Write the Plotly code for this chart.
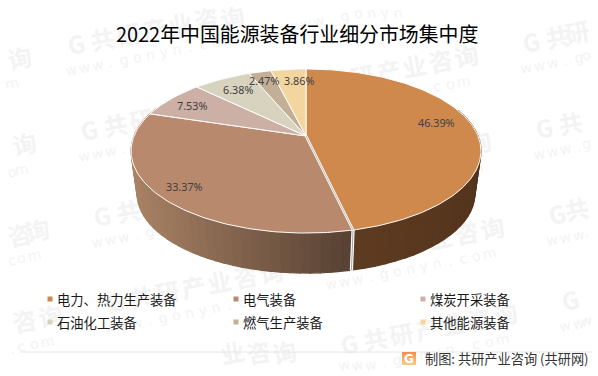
import numpy as np
import plotly.graph_objects as go

title = "2022年中国能源装备行业细分市场集中度"
categories = ["电力、热力生产装备", "电气装备", "煤炭开采装备", "石油化工装备", "燃气生产装备", "其他能源装备"]
values = [46.39, 33.37, 7.53, 6.38, 2.47, 3.86]
top_colors = ["#CF894C", "#B8896C", "#CCAFA5", "#D8D3BF", "#C3AF95", "#F3D5A0"]
label_xy = [(436, 122), (184, 186), (192, 105), (238, 89), (264, 80), (299, 80)]
legend_xy = [(50, 299), (236, 299), (423, 299), (50, 322), (236, 322), (423, 322)]
source = "制图: 共研产业咨询 (共研网)"
watermark_main = "G共研产业咨询"
watermark_sub = "www.gonyn.com"
FONT = "Noto Sans CJK SC"

# projected-disc geometry
CX, CY, AX, BY, K = 306.0, 136.0, 172.0, 79.3, 0.183
SCALE_B, CY_B = 0.965, 179.4


def top_pt(theta_deg, r=1.0, s=1.0, cy=CY):
    t = np.radians(theta_deg)
    x, y = r * np.sin(t), r * np.cos(t)
    d = 1 + K * y
    return CX + s * AX * x / d, cy - s * BY * y / d


def mix(c1, c2, f):
    a = [int(c1[i:i + 2], 16) for i in (1, 3, 5)]
    b = [int(c2[i:i + 2], 16) for i in (1, 3, 5)]
    return "#%02X%02X%02X" % tuple(round(p + (q - p) * f) for p, q in zip(a, b))


fig = go.Figure()


def poly(xs, ys, fill, line=None, width=0.0):
    fig.add_trace(go.Scatter(x=list(xs), y=list(ys), mode="lines", fill="toself", fillcolor=fill,
                             line=dict(color=line or fill, width=width), hoverinfo="skip", showlegend=False))


edges = np.concatenate([[0], np.cumsum(values)]) / sum(values) * 360


# watermarks: one glyph per small label, kept under the pie
def wm_glyph(x, y, ch, size, family, bold=False):
    if not (4 < x < 594 and 4 < y < 372):
        return
    half = size * 0.85
    x = min(max(x, half), 598 - half)
    y = min(max(y, half), 376 - half)
    txt = f"<b>{ch}</b>" if bold else ch
    fig.add_shape(type="rect", x0=x - 1, x1=x + 1, y0=y - 1, y1=y + 1, layer="below",
                  line=dict(width=0), fillcolor="rgba(0,0,0,0)",
                  label=dict(text=txt, textangle=-11, textposition="middle center",
                             font=dict(family=family, size=size, color="#F3F3F3")))


for i in (-1, 0, 1, 2):
    for j in (-1, 0, 1, 2, 3, 4):
        gx, gy = 77 + 234 * i + 13 * j, 47 + 42 * i + 86 * j
        for n, ch in enumerate(watermark_main):
            wm_glyph(gx + 26 * n, gy - 5 * n, ch, 24, FONT, True)
        for n, ch in enumerate(watermark_sub):
            wm_glyph(gx - 6 + 13.2 * n, gy + 22 - 2.55 * n, ch, 14, "DejaVu Sans")

# walls
wall_l_range = np.linspace(edges[1] + 0.5, 292, 45)
xs_min, xs_max = 131.0, 350.0
for a, b in zip(wall_l_range[:-1], wall_l_range[1:]):
    x1, y1 = top_pt(a); x2, y2 = top_pt(b)
    x3, y3 = top_pt(b, s=SCALE_B, cy=CY_B); x4, y4 = top_pt(a, s=SCALE_B, cy=CY_B)
    f = np.clip(((x1 + x2) / 2 - xs_min) / (xs_max - xs_min), 0, 1)
    col = mix("#A98265", "#574133", f)
    poly([x1, x2, x3, x4, x1], [y1, y2, y3, y4, y1], col, col, 1.2)
wall_r_range = np.linspace(70, edges[1] - 0.5, 30)
for a, b in zip(wall_r_range[:-1], wall_r_range[1:]):
    x1, y1 = top_pt(a); x2, y2 = top_pt(b)
    x3, y3 = top_pt(b, s=SCALE_B, cy=CY_B); x4, y4 = top_pt(a, s=SCALE_B, cy=CY_B)
    col = mix("#5E3C21", "#54341D", np.clip(((x1 + x2) / 2 - 352) / 129, 0, 1))
    poly([x1, x2, x3, x4, x1], [y1, y2, y3, y4, y1], col, col, 1.2)

# seam on the wall between first two slices
sx1, sy1 = top_pt(edges[1]); sx2, sy2 = top_pt(edges[1], s=SCALE_B, cy=CY_B)
fig.add_trace(go.Scatter(x=[sx1, sx2], y=[sy1, sy2], mode="lines", line=dict(color="#FFFFFF", width=3.2),
                         hoverinfo="skip", showlegend=False))
fig.add_trace(go.Scatter(x=[sx1, sx2], y=[sy1, sy2], mode="lines", line=dict(color="#A9A19A", width=1),
                         hoverinfo="skip", showlegend=False))

# top faces
for i, c in enumerate(top_colors):
    th = np.linspace(edges[i], edges[i + 1], max(6, int(edges[i + 1] - edges[i])))
    px, py = top_pt(th)
    poly(np.r_[CX, px, CX], np.r_[CY, py, CY], c, "#FFFFFF", 1.0)
fig.add_trace(go.Scatter(x=[CX, sx1], y=[CY, sy1], mode="lines", line=dict(color="#FFFFFF", width=2.6),
                         hoverinfo="skip", showlegend=False))
fig.add_trace(go.Scatter(x=[CX, sx1], y=[CY, sy1], mode="lines", line=dict(color="#B0A69E", width=0.8),
                         hoverinfo="skip", showlegend=False))

# data labels
for v, (lx, ly) in zip(values, label_xy):
    fig.add_annotation(x=lx, y=ly, text=f"{v:.2f}%", showarrow=False,
                       font=dict(family="Noto Sans", size=10.8, color="#404040"))

# legend
for name, col, (lx, ly) in zip(categories, top_colors, legend_xy):
    fig.add_trace(go.Scatter(x=[lx], y=[ly], mode="markers", marker=dict(symbol="square", size=5, color=col),
                             hoverinfo="skip", showlegend=False))
    fig.add_annotation(x=lx + 5, y=ly, text=name, showarrow=False, xanchor="left",
                       font=dict(family=FONT, size=13.3, color="#1A1A1A"))

# footer rule, logo, source
fig.add_shape(type="line", x0=20, x1=592, y0=352, y1=352, line=dict(color="#E6E6E6", width=1), layer="below")
for k in range(13):
    fig.add_shape(type="rect", x0=402, x1=416, y0=352 + k, y1=353 + k,
                  fillcolor=mix("#F58F4A", "#FBC98A", k / 12), line=dict(width=0), layer="above")
fig.add_annotation(x=409, y=358.5, text="<b>G</b>", showarrow=False,
                   font=dict(family="DejaVu Sans", size=12, color="#FFFFFF"))
fig.add_annotation(x=423, y=358, text=source, showarrow=False, xanchor="left",
                   font=dict(family=FONT, size=13.2, color="#333333"))

fig.add_annotation(x=297.5, y=33, text=title, showarrow=False,
                   font=dict(family=FONT, size=19.9, color="#000000"))

fig.update_layout(width=598, height=376, margin=dict(l=0, r=0, t=0, b=0), paper_bgcolor="#FFFFFF",
                  plot_bgcolor="rgba(0,0,0,0)", showlegend=False,
                  xaxis=dict(range=[0, 598], visible=False, fixedrange=True),
                  yaxis=dict(range=[376, 0], visible=False, fixedrange=True))
fig.write_html("out.html", config={"displayModeBar": False},
               post_script="document.body.style.margin='0';document.body.style.overflow='hidden';")
